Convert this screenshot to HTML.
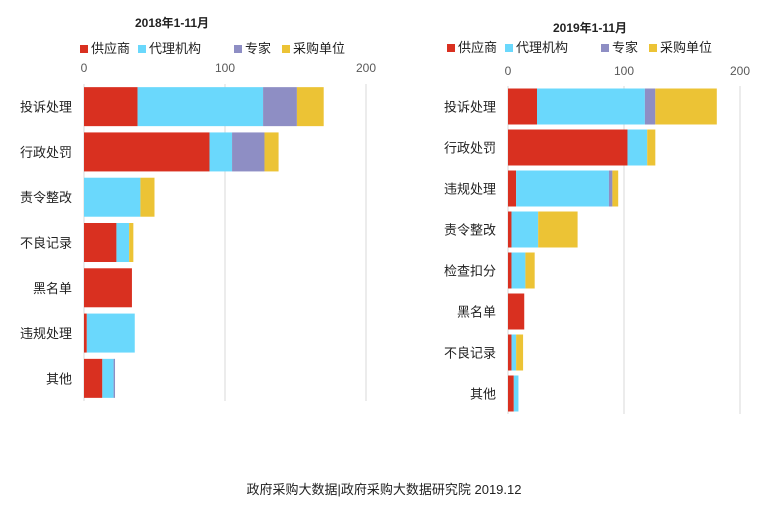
<!DOCTYPE html>
<html><head><meta charset="utf-8">
<style>
body{margin:0;background:#fff;width:768px;height:504px;overflow:hidden;font-family:"Liberation Sans","Noto Sans CJK SC",sans-serif;}
svg text{font-family:"Liberation Sans","Noto Sans CJK SC",sans-serif;}
</style></head><body>
<svg id="c" width="768" height="504">
<text x="172" y="27" font-size="12" font-weight="bold" text-anchor="middle" fill="#222">2018年1-11月</text>
<text x="590" y="32" font-size="12" font-weight="bold" text-anchor="middle" fill="#222">2019年1-11月</text>
<text x="384" y="494" font-size="13" text-anchor="middle" fill="#222">政府采购大数据|政府采购大数据研究院 2019.12</text>
</svg>
<script>
const seriesNames=["供应商","代理机构","专家","采购单位"];
const colors=["#d93020","#6ad8fc","#8e8ec4","#ecc335"];
const ticks=[0,100,200];
const cats2018=["投诉处理","行政处罚","责令整改","不良记录","黑名单","违规处理","其他"];
const sup2018=[38,89,0,23,34,2,13];
const agt2018=[89,16,40,9,0,34,8];
const exp2018=[24,23,0,0,0,0,1];
const buy2018=[19,10,10,3,0,0,0];
const cats2019=["投诉处理","行政处罚","违规处理","责令整改","检查扣分","黑名单","不良记录","其他"];
const sup2019=[25,103,7,3,3,14,3,5];
const agt2019=[93,17,80,23,12,0,4,4];
const exp2019=[9,0,3,0,0,0,0,0];
const buy2019=[53,7,5,34,8,0,6,0];
const svg=document.getElementById('c');
const NS='http://www.w3.org/2000/svg';
function mk(t,a,p){const e=document.createElementNS(NS,t);for(const k in a)e.setAttribute(k,a[k]);(p||svg).appendChild(e);return e;}
function panel(key,x0,pxPer,top,bottom,cats,series,legX,legY,barH,tickY){
  const g=mk('g',{});
  
  
  const xs=v=>x0+v*pxPer;
  ticks.forEach(t=>{
    const l=mk('line',{x1:xs(t),x2:xs(t),y1:top,y2:bottom,stroke:'#d9d9d9','stroke-width':1},g);
    
    
    const tx=mk('text',{x:xs(t),y:tickY,'font-size':12,fill:'#595959','text-anchor':'middle'},g);
    tx.textContent=t;
    
    
  });
  const step=(bottom-top)/cats.length;
  cats.forEach((c,i)=>{
    const cy=top+step*(i+0.5);
    const lb=mk('text',{x:x0-12,y:cy+5,'font-size':13,fill:'#222','text-anchor':'end'},g);
    lb.textContent=c;
    
    
    let acc=0;
    series.forEach((s,j)=>{
      const v=s[i];
      if(v>0){
        const r=mk('rect',{x:xs(acc),y:cy-barH/2,width:v*pxPer,height:barH,fill:colors[j]},g);
        
        
      }
      acc+=v;
    });
  });
  let lx=legX;
  const widths=[58,96,48,72];
  seriesNames.forEach((n,j)=>{
    const sq=mk('rect',{x:lx,y:legY-8,width:8,height:8,fill:colors[j]},g);
    
    
    const t=mk('text',{x:lx+11,y:legY,'font-size':13,fill:'#222'},g);
    t.textContent=n;
    
    
    lx+=widths[j];
  });
}
panel('left',84,1.41,84,401,cats2018,[sup2018,agt2018,exp2018,buy2018],80,53,39,72);
panel('right',508,1.16,86,414,cats2019,[sup2019,agt2019,exp2019,buy2019],447,52,36,75);
</script>
</body></html>
